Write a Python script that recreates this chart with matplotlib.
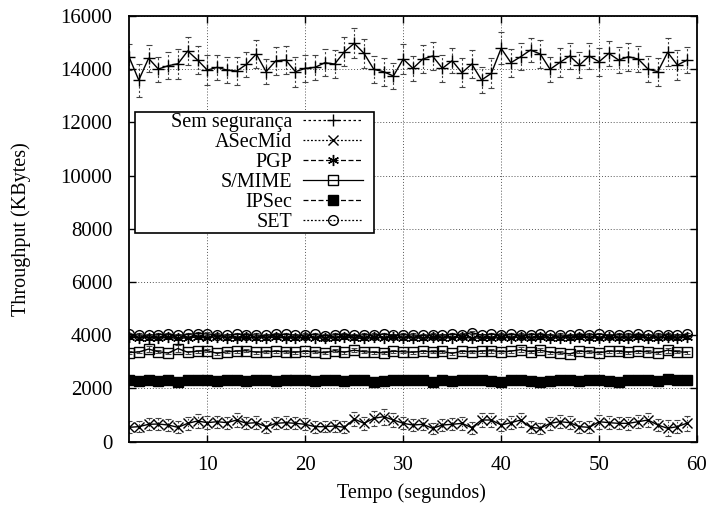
import matplotlib
matplotlib.use("Agg")
import matplotlib.pyplot as plt
from matplotlib.lines import Line2D
from matplotlib.patches import Rectangle
import numpy as np

plt.rcParams['font.family'] = ['Liberation Serif', 'DejaVu Serif']

tempo = list(range(2, 60))

sem_seg = [14463, 13584, 14402, 14000, 14125, 14200, 14677, 14339, 13963, 14064,
           13963, 13925, 14177, 14564, 13900, 14313, 14339, 13900, 14026, 14064,
           14238, 14188, 14651, 14965, 14590, 13990, 13900, 13738, 14376, 14026,
           14376, 14489, 14026, 14313, 13863, 14188, 13588, 13838, 14778, 14238,
           14463, 14715, 14564, 13990, 14250, 14489, 14150, 14489, 14275, 14590,
           14339, 14463, 14376, 14000, 13900, 14628, 14150, 14339]
sem_seg_err = [480, 620, 520, 470, 500, 560, 540, 520, 560, 470,
               500, 540, 470, 540, 480, 520, 520, 560, 500, 470,
               500, 520, 540, 560, 540, 500, 520, 480, 560, 480,
               520, 540, 500, 460, 540, 520, 500, 560, 600, 520,
               500, 460, 520, 480, 540, 480, 480, 500, 520, 480,
               500, 520, 480, 500, 520, 520, 560, 500]

asecmid = [540, 565, 653, 665, 627, 540, 690, 778, 715, 752,
           715, 815, 690, 715, 565, 690, 715, 690, 653, 565,
           565, 590, 540, 853, 690, 878, 940, 815, 690, 627,
           653, 503, 627, 653, 690, 528, 815, 815, 627, 715,
           815, 540, 503, 690, 752, 715, 565, 540, 752, 715,
           690, 690, 752, 815, 627, 503, 565, 700]
asecmid_err = [220, 200, 230, 210, 240, 220, 250, 260, 240, 230,
               220, 260, 230, 240, 220, 230, 240, 220, 230, 220,
               210, 230, 220, 260, 240, 280, 300, 260, 230, 220,
               230, 210, 230, 220, 240, 220, 260, 250, 230, 240,
               260, 220, 210, 240, 250, 240, 220, 230, 260, 240,
               230, 240, 250, 260, 240, 300, 250, 280]

pgp = [3930, 3900, 3910, 3890, 3920, 3880, 3910, 3930, 3900, 3950,
       3910, 3890, 3920, 3900, 3910, 3930, 3890, 3900, 3920, 3910,
       3890, 3910, 3930, 3900, 3880, 3920, 3910, 3930, 3900, 3910,
       3890, 3920, 3900, 3910, 3930, 3890, 3900, 3880, 3920, 3910,
       3930, 3900, 3920, 3890, 3910, 3900, 3930, 3910, 3890, 3920,
       3910, 3900, 3930, 3890, 3910, 3920, 3900, 3930]
pgp_err = [60] * 58

smime = [3350, 3370, 3480, 3380, 3330, 3500, 3360, 3400, 3420, 3320,
         3380, 3400, 3420, 3360, 3380, 3400, 3380, 3360, 3400, 3380,
         3340, 3420, 3360, 3440, 3380, 3360, 3340, 3400, 3380, 3360,
         3400, 3380, 3390, 3320, 3400, 3380, 3400, 3420, 3380, 3400,
         3460, 3380, 3440, 3360, 3340, 3300, 3400, 3380, 3340, 3400,
         3400, 3360, 3400, 3380, 3340, 3440, 3380, 3360]
smime_err = [50, 50, 120, 50, 50, 120, 50, 60, 60, 50,
             50, 60, 60, 50, 50, 60, 50, 50, 60, 50,
             50, 60, 50, 80, 50, 50, 50, 60, 50, 50,
             60, 50, 50, 50, 60, 50, 60, 70, 50, 60,
             90, 50, 80, 50, 50, 50, 60, 50, 50, 60,
             60, 50, 60, 50, 50, 90, 50, 50]

ipsec = [2300, 2280, 2320, 2270, 2320, 2250, 2320, 2310, 2300, 2280,
         2300, 2320, 2280, 2300, 2320, 2270, 2310, 2300, 2320, 2280,
         2310, 2320, 2290, 2320, 2300, 2240, 2290, 2310, 2320, 2300,
         2320, 2240, 2320, 2280, 2300, 2310, 2320, 2290, 2250, 2320,
         2300, 2290, 2250, 2280, 2300, 2320, 2280, 2300, 2320, 2290,
         2250, 2300, 2310, 2320, 2290, 2340, 2320, 2300]
ipsec_err = [30] * 58

set_vals = [4030, 4010, 4000, 4020, 4040, 3990, 4030, 4060, 4050, 4010,
            4000, 4040, 4020, 4010, 3990, 4040, 4030, 4000, 4010, 4030,
            3980, 4020, 4040, 3990, 4020, 4010, 4040, 4000, 4020, 4010,
            3990, 4020, 4000, 4040, 4010, 4100, 4000, 4040, 4010, 4030,
            4010, 4020, 4040, 4000, 4010, 3990, 4030, 4010, 4040, 4000,
            4020, 4010, 4030, 4000, 4010, 4020, 4000, 4030]
set_err = [60] * 58

labels = ["Sem segurança", "ASecMid", "PGP", "S/MIME", "IPSec", "SET"]

fig = plt.figure(figsize=(7.11, 5.07), dpi=100)
ax = fig.add_axes([0.1814, 0.1288, 0.9803 - 0.1814, 0.9688 - 0.1288])

styles = [
    dict(y=sem_seg, e=sem_seg_err, marker='+', ms=8, mfc='black', ls=(0, (2, 2))),
    dict(y=asecmid, e=asecmid_err, marker='x', ms=6.5, mfc='black', ls=(0, (1.5, 1.5))),
    dict(y=pgp, e=pgp_err, marker=(6, 2, 0), ms=8, mfc='black', ls=(0, (4, 2))),
    dict(y=smime, e=smime_err, marker='s', ms=6.5, mfc='none', ls='-'),
    dict(y=ipsec, e=ipsec_err, marker='s', ms=7, mfc='black', ls=(0, (4, 2))),
    dict(y=set_vals, e=set_err, marker='o', ms=7, mfc='none', ls=(0, (1.5, 1.5))),
]

handles = []
for st, lab in zip(styles, labels):
    ax.plot(tempo, st['y'], color='black', lw=1.0, zorder=3)
    eb = ax.errorbar(tempo, st['y'], yerr=st['e'], fmt='none', ecolor='#444444',
                     elinewidth=0.8, capsize=2.5, capthick=0.8, zorder=2)
    for lc in eb[2]:
        lc.set_linestyle(st['ls'])
    ax.plot(tempo, st['y'], ls='none', marker=st['marker'], ms=st['ms'],
            mfc=st['mfc'], mec='black', mew=1.0, color='black', zorder=4)
    handles.append(Line2D([0], [0], color='black', lw=0.9, ls=st['ls'],
                          marker=st['marker'], ms=st['ms'], mfc=st['mfc'],
                          mec='black', mew=1.0))

ax.set_xlim(2, 60)
ax.set_ylim(0, 16000)
ax.set_xticks([10, 20, 30, 40, 50, 60])
ax.set_yticks(range(0, 16001, 2000))
ax.tick_params(direction='in', top=True, right=True, length=5, width=1,
               labelsize=15)
ax.tick_params(axis='y', pad=12)
ax.tick_params(axis='x', pad=10)
ax.grid(True, color='#555555', ls=(0, (1, 2)), lw=0.7)
for sp in ax.spines.values():
    sp.set_linewidth(1.3)

ax.set_xlabel("Tempo (segundos)", fontsize=14.5)
ax.set_ylabel("Throughput (KBytes)", fontsize=14.5)
ax.xaxis.label.set_va('center')
ax.yaxis.label.set_va('center')
ax.xaxis.set_label_coords(0.498, -0.121)
ax.yaxis.set_label_coords(-0.19, 0.5)

# legend frame (gnuplot-style box)
frame = Rectangle((0.0106, 0.490), 0.4207, 0.284, transform=ax.transAxes,
                  facecolor='white', edgecolor='black', lw=1.2, zorder=5)
ax.add_patch(frame)

leg = ax.legend(handles, labels, loc='upper right', bbox_to_anchor=(0.412, 0.7718),
                fontsize=14.5, markerfirst=False, frameon=False,
                handlelength=2.98, handletextpad=0.545,
                labelspacing=0.04, borderpad=0.0, borderaxespad=0)
leg.set_zorder(6)
for t in leg.get_texts():
    t.set_ha('right')
leg._legend_box.align = "right"

fig.savefig("out.png", dpi=100)
